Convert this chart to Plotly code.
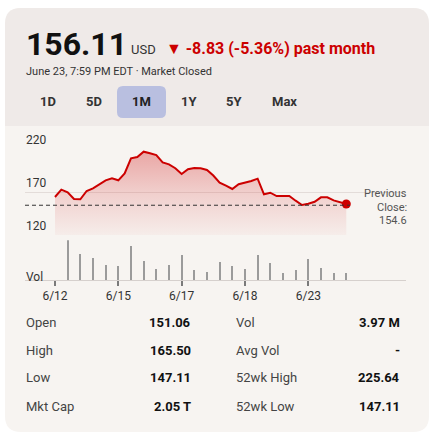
import numpy as np
import plotly.graph_objects as go

W, H = 434, 438

# ---------------- data ----------------
price = [164.2, 172.7, 169.7, 161.9, 161.5, 171.2, 174.3, 179.3, 183.6, 185.9,
         183.6, 191.7, 209.2, 210.7, 216.9, 215.0, 213.0, 204.5, 202.2, 197.6,
         190.9, 196.4, 197.9, 197.6, 195.6, 189.1, 180.8, 177.3, 173.5, 179.0,
         180.8, 182.8, 185.5, 167.3, 169.2, 165.3, 165.3, 165.3, 159.9, 154.9,
         156.4, 158.7, 163.8, 163.8, 160.3, 158.4, 156.1]
volume = [0.0, 24.9, 15.9, 13.8, 9.4, 8.6, 21.3, 11.7, 6.5, 9.4, 15.7, 6.3,
          5.0, 11.3, 8.8, 6.9, 15.7, 10.2, 4.4, 6.3, 13.2, 7.5, 4.4, 3.97]
date_tickvals = [0, 5, 10, 15, 20]
date_ticktext = ["6/12", "6/15", "6/17", "6/18", "6/23"]
price_ticks = [120, 170, 220]
prev_close = 154.6

last_price = "156.11"
currency = "USD"
change_text = "▼ -8.83 (-5.36%) past month"
status_text = "June 23, 7:59 PM EDT · Market Closed"
ranges = ["1D", "5D", "1M", "1Y", "5Y", "Max"]
active_range = "1M"

left_labels = ["Open", "High", "Low", "Mkt Cap"]
left_values = ["151.06", "165.50", "147.11", "2.05 T"]
right_labels = ["Vol", "Avg Vol", "52wk High", "52wk Low"]
right_values = ["3.97 M", "-", "225.64", "147.11"]

# ---------------- helpers ----------------
def px(x):
    return x / W

def py(y):
    return 1 - y / H

def rounded_path(x0, y0, x1, y1, rt, rb):
    X0, X1 = px(x0), px(x1)
    Y0, Y1 = py(y0), py(y1)
    p = f"M {px(x0 + rt)} {Y0} L {px(x1 - rt)} {Y0} "
    p += f"Q {X1} {Y0} {X1} {py(y0 + rt)} " if rt else f"L {X1} {Y0} "
    p += f"L {X1} {py(y1 - rb)} "
    p += f"Q {X1} {Y1} {px(x1 - rb)} {Y1} " if rb else f"L {X1} {Y1} "
    p += f"L {px(x0 + rb)} {Y1} "
    p += f"Q {X0} {Y1} {X0} {py(y1 - rb)} " if rb else f"L {X0} {Y1} "
    p += f"L {X0} {py(y0 + rt)} "
    p += f"Q {X0} {Y0} {px(x0 + rt)} {Y0} Z" if rt else f"L {X0} {Y0} Z"
    return p

FONT = "Roboto"
RED = "#cc0000"

# x geometry: index 0 at px 55, one day step = 12.665 px
step_px = 12.665
x_left, x_right = 25, 406
xr = [(x_left - 55) / step_px, (x_right - 55) / step_px]

price_x = np.arange(len(price)) * 0.5
vol_x = np.arange(len(volume))

fig = go.Figure()

fig.add_trace(go.Scatter(
    x=price_x, y=price, mode="lines",
    line=dict(color=RED, width=2),
    fill="tozeroy",
    fillgradient=dict(type="vertical", start=120, stop=max(price),
                      colorscale=[[0, "rgba(215,60,60,0.04)"],
                                  [0.5, "rgba(215,60,60,0.2)"],
                                  [1, "rgba(215,60,60,0.42)"]]),
    hoverinfo="skip", xaxis="x", yaxis="y", showlegend=False))
fig.add_trace(go.Scatter(
    x=[price_x[-1]], y=[price[-1]], mode="markers",
    marker=dict(color=RED, size=9), xaxis="x", yaxis="y", showlegend=False))
fig.add_trace(go.Bar(
    x=vol_x, y=volume, width=0.16, marker=dict(color="#9b9b9b", line=dict(width=0)),
    xaxis="x2", yaxis="y2", showlegend=False))

shapes = [
    dict(type="path", xref="paper", yref="paper", path=rounded_path(5, 8, 429, 432, 16, 16),
         fillcolor="#f7f4f1", line=dict(width=0), layer="below"),
    dict(type="path", xref="paper", yref="paper", path=rounded_path(5, 8, 429, 126, 16, 0),
         fillcolor="#efeae8", line=dict(width=0), layer="below"),
    dict(type="path", xref="paper", yref="paper", path=rounded_path(117, 86, 166, 118, 6, 6),
         fillcolor="#b9bfe0", line=dict(width=0), layer="below"),
    dict(type="line", xref="paper", yref="y", x0=px(25), x1=px(350), y0=prev_close, y1=prev_close,
         line=dict(color="#333333", width=1, dash="4px,3px")),
]

ann = []
def A(text, x, y, size, color="#333333", bold=False, xanchor="left", yanchor="middle", **kw):
    if bold:
        text = f"<b>{text}</b>"
    d = dict(text=text, x=px(x), y=py(y), xref="paper", yref="paper", showarrow=False,
             xanchor=xanchor, yanchor=yanchor, font=dict(family=FONT, size=size, color=color))
    d.update(kw)
    ann.append(d)

A(last_price, 24, 44, 32, "#111111", bold=True)
A(currency, 129, 50, 13, "#333333")
A(change_text, 164, 49, 16, RED, bold=True)
A(status_text, 24, 71, 11, "#333333")
btn_x = [48, 94, 141.5, 188.5, 234.5, 284]
for lab, bx in zip(ranges, btn_x):
    A(lab, bx, 101.5, 13, "#222222" if lab == active_range else "#333333", bold=True, xanchor="center")

for v in price_ticks:
    ann.append(dict(text=str(v), x=px(24), y=v, xref="paper", yref="y", showarrow=False,
                    xanchor="left", yanchor="bottom", yshift=0,
                    font=dict(family=FONT, size=12, color="#333333")))
A("Vol", 24, 276.5, 12, "#333333")
for i, t in enumerate(["Previous", "Close:", "154.6"]):
    A(t, 409, 194 + i * 13.3, 11, "#555555", xanchor="right")

row_y = [322.3, 350, 377.7, 406]
for i, yy in enumerate(row_y):
    A(left_labels[i], 24, yy, 13, "#444444")
    A(left_values[i], 193, yy, 13, "#111111", bold=True, xanchor="right")
    A(right_labels[i], 233.5, yy, 13, "#444444")
    A(right_values[i], 402, yy, 13, "#111111", bold=True, xanchor="right")

fig.update_layout(
    width=W, height=H, margin=dict(l=0, r=0, t=0, b=0, pad=0),
    paper_bgcolor="#ffffff", plot_bgcolor="rgba(0,0,0,0)",
    font=dict(family=FONT, size=12, color="#333333"),
    shapes=shapes, annotations=ann, bargap=0,
    xaxis=dict(domain=[px(x_left), px(x_right)], range=xr, anchor="y",
               showgrid=False, zeroline=False, showticklabels=False, ticks="", fixedrange=True),
    yaxis=dict(domain=[py(235), py(149)], range=[120, 220], tickvals=price_ticks,
               showticklabels=False, showgrid=True, gridcolor="#e3dcd9", gridwidth=1,
               zeroline=False, ticks="", fixedrange=True),
    xaxis2=dict(domain=[px(x_left), px(x_right)], range=xr, anchor="y2",
                showgrid=False, zeroline=False, showline=True, linecolor="#d6d0cd", linewidth=1,
                ticks="outside", tickvals=date_tickvals, ticktext=date_ticktext,
                ticklen=5, tickwidth=1.5, tickcolor="#7a7a7a",
                tickfont=dict(family=FONT, size=12, color="#333333"), fixedrange=True),
    yaxis2=dict(domain=[py(280), py(240.3)], range=[0, max(volume)],
                showgrid=False, zeroline=False, showticklabels=False, ticks="", fixedrange=True),
)

fig.write_html("out.html")
